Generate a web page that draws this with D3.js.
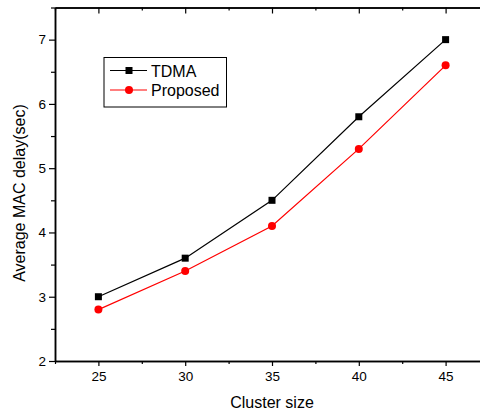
<!DOCTYPE html>
<html>
<head>
<meta charset="utf-8">
<script src="https://cdn.jsdelivr.net/npm/d3@7"></script>
<style>
  body { margin: 0; background: #fff; }
  svg { display: block; font-family: Arial, "Liberation Sans", sans-serif; }
</style>
</head>
<body>
<svg width="480" height="412"></svg>
<script>
// chart values
const clusterSizes = [25, 30, 35, 40, 45];
const tdma = [3.0, 3.6, 4.5, 5.8, 7.0];
const proposed = [2.8, 3.4, 4.1, 5.3, 6.6];
const xTicks = [25, 30, 35, 40, 45];
const yTicks = [2, 3, 4, 5, 6, 7];

const series = [
  { name: 'TDMA', values: tdma, color: '#000', shape: 'square' },
  { name: 'Proposed', values: proposed, color: '#ff0000', shape: 'circle' }
];

const svg = d3.select('svg');

// plot frame (right edge falls off the picture)
const plotLeft = 55, plotTop = 7.5, plotBottom = 361, plotRight = 489;

const x = d3.scaleLinear().domain([22.5, 47.5]).range([plotLeft, plotRight]);
const y = d3.scaleLinear().domain([2, 7.5]).range([plotBottom, plotTop]);

// minor ticks halfway between majors
const xMinor = d3.range(22.5, 47.6, 2.5).filter(v => !xTicks.includes(v));
const yMinor = d3.range(2.5, 7.6, 1);

// bottom axis
const gx = svg.append('g').attr('transform', `translate(0,${plotBottom})`);
gx.call(d3.axisBottom(x).tickValues(xTicks).tickFormat(d3.format('d')).tickSize(5).tickSizeOuter(0).tickPadding(5));
gx.append('g').call(d3.axisBottom(x).tickValues(xMinor).tickSize(3).tickSizeOuter(0).tickFormat(''));

// left axis
const gy = svg.append('g').attr('transform', `translate(${plotLeft},0)`);
gy.call(d3.axisLeft(y).tickValues(yTicks).tickFormat(d3.format('d')).tickSize(6).tickSizeOuter(0).tickPadding(3));
gy.append('g').call(d3.axisLeft(y).tickValues(yMinor).tickSize(4).tickSizeOuter(0).tickFormat(''));

// top axis, ticks point inward
const gt = svg.append('g').attr('transform', `translate(0,${plotTop})`);
gt.call(d3.axisBottom(x).tickValues(xTicks).tickSize(6).tickSizeOuter(0).tickFormat(''));
gt.append('g').call(d3.axisBottom(x).tickValues(xMinor).tickSize(3).tickSizeOuter(0).tickFormat(''));

svg.selectAll('.domain').attr('stroke', '#000').attr('stroke-width', 1.5);
svg.selectAll('.tick line').attr('stroke', '#000').attr('stroke-width', 1.2);
svg.selectAll('.tick text').attr('font-size', 13.5).attr('fill', '#000')
  .attr('font-family', 'Arial, "Liberation Sans", sans-serif');

// axis titles
svg.append('text')
  .attr('x', x(35))
  .attr('y', 408)
  .attr('text-anchor', 'middle')
  .attr('font-size', 16)
  .text('Cluster size');

svg.append('text')
  .attr('transform', 'translate(25,193) rotate(-90)')
  .attr('text-anchor', 'middle')
  .attr('font-size', 16)
  .text('Average MAC delay(sec)');

// lines and markers
const line = d3.line()
  .x((d, i) => x(clusterSizes[i]))
  .y(d => y(d));

function drawMarker(g, shape, color, cx, cy) {
  if (shape === 'square') {
    g.append('rect')
      .attr('x', cx - 3.5).attr('y', cy - 3.5)
      .attr('width', 7).attr('height', 7)
      .attr('fill', color);
  } else {
    g.append('circle')
      .attr('cx', cx).attr('cy', cy).attr('r', 4)
      .attr('fill', color);
  }
}

series.forEach(s => {
  svg.append('path')
    .datum(s.values)
    .attr('d', line)
    .attr('fill', 'none')
    .attr('stroke', s.color)
    .attr('stroke-width', 1.2);
  const g = svg.append('g');
  s.values.forEach((v, i) => drawMarker(g, s.shape, s.color, x(clusterSizes[i]), y(v)));
});

// legend
const legend = svg.append('g');
legend.append('rect')
  .attr('x', 104).attr('y', 57.5)
  .attr('width', 122.5).attr('height', 49.5)
  .attr('fill', '#fff')
  .attr('stroke', '#000')
  .attr('stroke-width', 1);

series.forEach((s, i) => {
  const ly = 70.5 + i * 19.5;
  legend.append('line')
    .attr('x1', 110).attr('x2', 147)
    .attr('y1', ly).attr('y2', ly)
    .attr('stroke', s.color).attr('stroke-width', 1.2);
  drawMarker(legend, s.shape, s.color, 129, ly);
  legend.append('text')
    .attr('x', 151).attr('y', ly + 6)
    .attr('font-size', 16)
    .text(s.name);
});
</script>
</body>
</html>
